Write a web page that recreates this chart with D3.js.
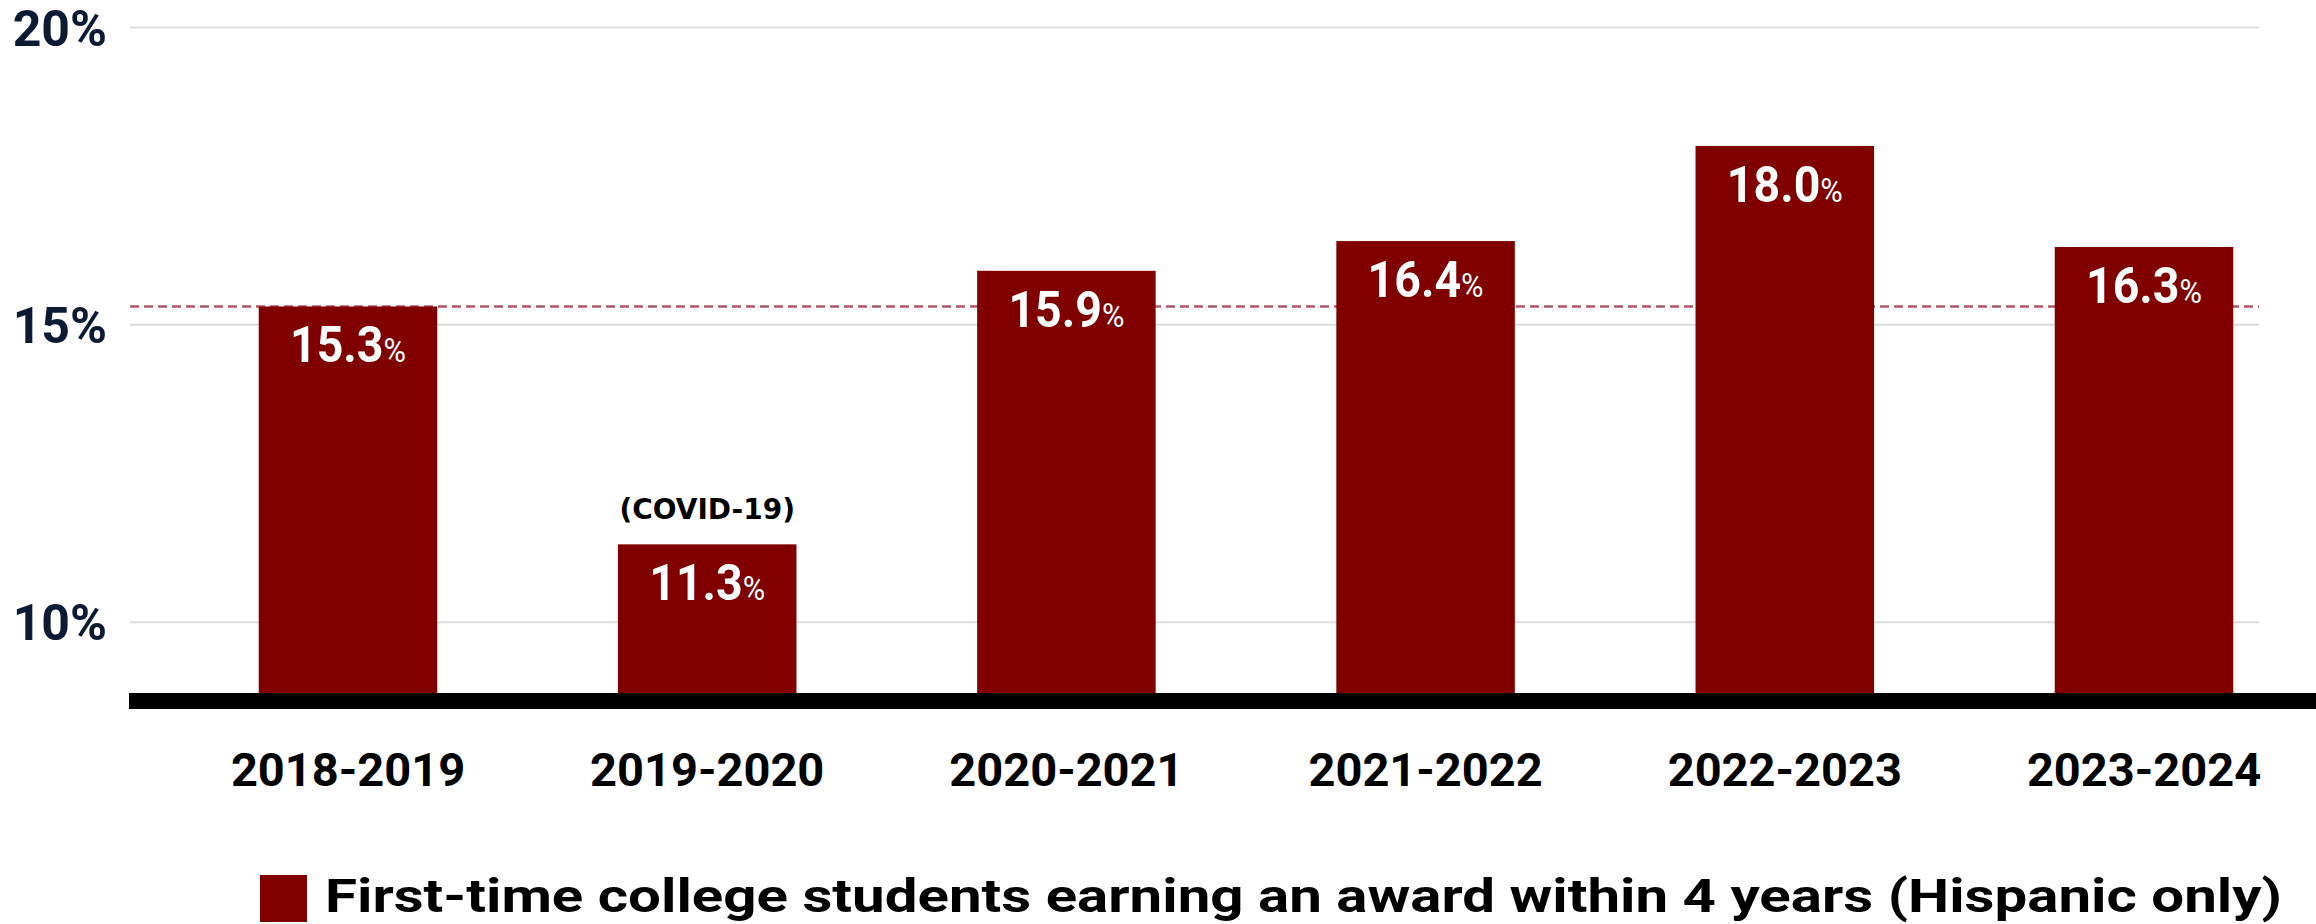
<!DOCTYPE html>
<html>
<head>
<meta charset="utf-8">
<script src="https://cdn.jsdelivr.net/npm/d3@7"></script>
<style>
  html, body { margin: 0; padding: 0; background: #ffffff; }
  svg { display: block; }
</style>
</head>
<body>
<svg id="chart" width="2316" height="924"></svg>
<script>
// Academic years on the x axis
const years = ["2018-2019", "2019-2020", "2020-2021", "2021-2022", "2022-2023", "2023-2024"];
// Share of first-time college students earning an award within 4 years (Hispanic only), in %
const awardRates = [15.3, 11.3, 15.9, 16.4, 18.0, 16.3];
// Notes printed above individual bars
const barNotes = ["", "(COVID-19)", "", "", "", ""];
// Y axis tick values (%)
const yTicks = [10, 15, 20];
const legendLabel = "First-time college students earning an award within 4 years (Hispanic only)";

const W = 2316, H = 924;
const gridLeft = 130, gridRight = 2259;
const baseTop = 693, axisThickness = 16;
const maroon = "#800000";

const svg = d3.select("#chart");

const x = d3.scaleBand()
  .domain(years)
  .range([168.4, 2323.6])
  .paddingInner(0.503)
  .paddingOuter(0.2515);

const y = d3.scaleLinear()
  .domain([8.8, 20])
  .range([baseTop, 27]);

// Gridlines and percentage labels
const yAxis = d3.axisLeft(y)
  .tickValues(yTicks)
  .tickSize(-(gridRight - gridLeft))
  .tickPadding(23)
  .tickFormat(d => d + "%");

const gy = svg.append("g")
  .attr("transform", `translate(${gridLeft},0)`)
  .call(yAxis);
gy.select(".domain").remove();
gy.selectAll(".tick line")
  .attr("stroke", "#dcdcdc")
  .attr("stroke-width", 2);
gy.selectAll(".tick text")
  .attr("fill", "#0c1a33")
  .attr("font-family", "Roboto, 'Noto Sans', sans-serif")
  .attr("font-weight", 700)
  .attr("font-size", 50)
  .attr("dy", "0.36em");

// Reference level at the first year's value
svg.append("line")
  .attr("x1", gridLeft)
  .attr("x2", gridRight)
  .attr("y1", y(awardRates[0]))
  .attr("y2", y(awardRates[0]))
  .attr("stroke", "#b35667")
  .attr("stroke-width", 2.5)
  .attr("stroke-dasharray", "9,5");

const data = years.map((yr, i) => ({ year: yr, value: awardRates[i], note: barNotes[i] }));

// Bars
svg.append("g").selectAll("rect")
  .data(data)
  .join("rect")
  .attr("x", d => x(d.year))
  .attr("y", d => y(d.value))
  .attr("width", x.bandwidth())
  .attr("height", d => y(8.8) - y(d.value))
  .attr("fill", maroon);

// Value labels inside the bars (slightly condensed)
const fmt = d3.format(".1f");
const vl = svg.append("g").selectAll("text")
  .data(data)
  .join("text")
  .attr("transform", d => `translate(${x(d.year) + x.bandwidth() / 2},${y(d.value) + 56}) scale(0.93,1)`)
  .attr("text-anchor", "middle")
  .attr("fill", "#ffffff")
  .attr("font-family", "Roboto, 'Noto Sans', sans-serif")
  .attr("font-weight", 700)
  .attr("font-size", 50);
vl.append("tspan").text(d => fmt(d.value));
vl.append("tspan")
  .attr("font-size", 33)
  .attr("font-weight", 400)
  .text("%");

// Notes above bars
svg.append("g").selectAll("text")
  .data(data.filter(d => d.note))
  .join("text")
  .attr("x", d => x(d.year) + x.bandwidth() / 2)
  .attr("y", d => y(d.value) - 25)
  .attr("text-anchor", "middle")
  .attr("fill", "#000000")
  .attr("font-family", "'DejaVu Sans', sans-serif")
  .attr("font-weight", 700)
  .attr("font-size", 28)
  .text(d => d.note);

// Thick baseline
svg.append("line")
  .attr("x1", gridLeft - 1)
  .attr("x2", W)
  .attr("y1", baseTop + axisThickness / 2)
  .attr("y2", baseTop + axisThickness / 2)
  .attr("stroke", "#000000")
  .attr("stroke-width", axisThickness);

// Year labels
const xAxis = d3.axisBottom(x).tickSize(0).tickPadding(0);
const gx = svg.append("g")
  .attr("transform", `translate(0,${baseTop + axisThickness})`)
  .call(xAxis);
gx.select(".domain").remove();
gx.selectAll(".tick text")
  .attr("y", 77)
  .attr("dy", 0)
  .attr("fill", "#000000")
  .attr("font-family", "Roboto, 'Noto Sans', sans-serif")
  .attr("font-weight", 700)
  .attr("font-size", 47);

// Legend
const lg = svg.append("g");
lg.append("rect")
  .attr("x", 260)
  .attr("y", 875)
  .attr("width", 47)
  .attr("height", 47)
  .attr("fill", maroon);
lg.append("text")
  .attr("x", 325)
  .attr("y", 912)
  .attr("fill", "#000000")
  .attr("font-family", "Roboto, 'Noto Sans', sans-serif")
  .attr("font-weight", 700)
  .attr("font-size", 46)
  .attr("textLength", 1957)
  .attr("lengthAdjust", "spacingAndGlyphs")
  .text(legendLabel);
</script>
</body>
</html>
